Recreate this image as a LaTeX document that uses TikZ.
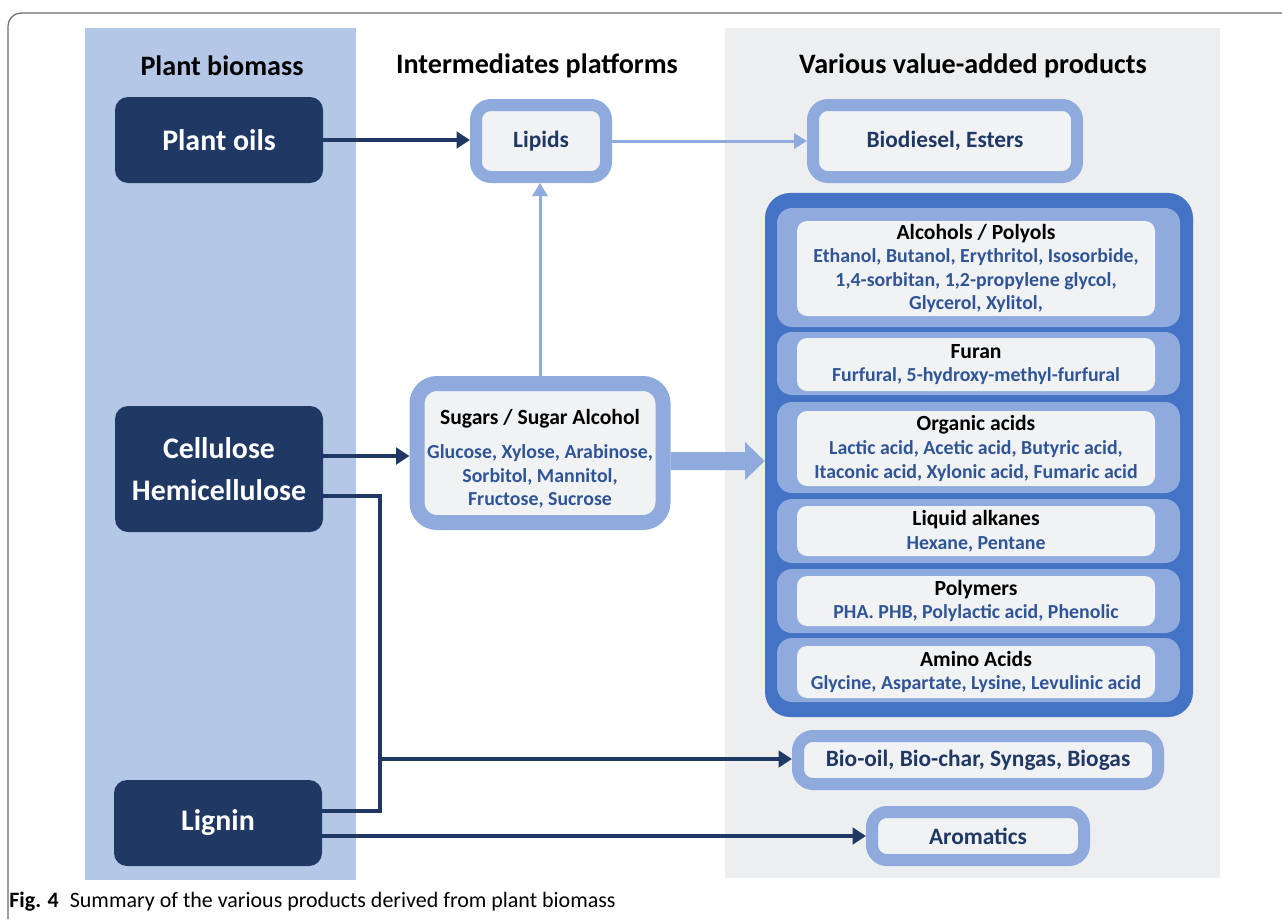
\documentclass[tikz,border=0pt]{standalone}
\usepackage{fontspec}
\setmainfont{Carlito}
\usetikzlibrary{arrows.meta}

\definecolor{navy}{HTML}{1F3864}
\definecolor{bandblue}{HTML}{B4C7E7}
\definecolor{ringblue}{HTML}{8FAADC}
\definecolor{boxblue}{HTML}{4472C4}
\definecolor{itemblue}{HTML}{2F5597}
\definecolor{panelgrey}{HTML}{EDEEF0}
\definecolor{innergrey}{HTML}{F1F2F4}
\definecolor{framegrey}{HTML}{6B6B6B}

\newcommand{\ptitle}[1]{{\color{black}\fontsize{12.3}{14}\selectfont #1}}

\tikzset{
    header/.style={font=\fontsize{16}{19}\selectfont\bfseries},
    srcbox/.style={fill=navy, text=white, rounded corners=2.6mm, align=center,
        inner sep=0, minimum width=41.6mm, font=\fontsize{17}{24}\selectfont\bfseries},
    ringbox/.style={draw=ringblue, line width=2.4mm, fill=innergrey, rounded corners=3mm,
        inner sep=0, align=center, text=navy, font=\fontsize{13.3}{16}\selectfont\bfseries},
    bandbox/.style={fill=ringblue, rounded corners=3mm, inner sep=0, minimum width=80.6mm},
    itembox/.style={fill=innergrey, rounded corners=2mm, inner sep=0, minimum width=71.6mm,
        align=center, text=itemblue, font=\fontsize{11.3}{13.4}\selectfont\bfseries},
    navyarrow/.style={draw=navy, line width=0.75mm, -{Triangle[length=2.7mm,width=3.3mm]}},
    navyline/.style={draw=navy, line width=0.75mm},
    lightarrow/.style={draw=ringblue, line width=0.6mm, -{Triangle[length=2.6mm,width=3mm]}}
}

\begin{document}
\begin{tikzpicture}[x=0.2mm, y=-0.2mm]
    \useasboundingbox (0,0) rectangle (1282,919);

    % frame and background columns
    \draw[framegrey, line width=0.25mm, rounded corners=2.6mm] (1282,13) -- (8,13) -- (8,919);
    \fill[bandblue] (85,28) rectangle (356,880);
    \fill[panelgrey] (725,28) rectangle (1220,878);

    \node[header] (hbiomass) at (222,66) {Plant biomass};
    \node[header] (hplatform) at (537,66) {Intermediates platforms};
    \node[header] (hproducts) at (973,66) {Various value-added products};

    % plant biomass
    \node[srcbox, minimum height=17.2mm] (plantoils) at (219,140) {Plant oils};
    \node[srcbox, minimum height=25.2mm] (cellulose) at (219,469) {Cellulose\\Hemicellulose};
    \node[srcbox, minimum height=17.2mm] (lignin) at (218,823) {Lignin};

    % intermediates
    \node[ringbox, minimum width=26mm, minimum height=14.4mm] (lipids) at (541,141) {Lipids};
    \node[ringbox, line width=3mm, rounded corners=4mm,
        minimum width=49.2mm, minimum height=27.8mm] (sugars) at (540,453) {};
    \node[align=center, inner sep=0, text=itemblue,
        font=\fontsize{11.3}{13.4}\selectfont\bfseries] (sugarstext) at (540,459)
        {\ptitle{Sugars / Sugar Alcohol}\\[6pt]
         Glucose, Xylose, Arabinose,\\Sorbitol, Mannitol,\\Fructose, Sucrose};

    % products
    \node[ringbox, minimum width=52.8mm, minimum height=14.4mm] (biodiesel) at (945,141) {Biodiesel, Esters};

    \node[fill=boxblue, rounded corners=5mm, inner sep=0, minimum width=85.6mm,
        minimum height=104.8mm] (products) at (979,455) {};

    \node[bandbox, minimum height=23.8mm] (alcoholsband) at (978.5,267.5) {};
    \node[bandbox, minimum height=12.6mm] (furanband) at (978.5,363.5) {};
    \node[bandbox, minimum height=18.2mm] (acidsband) at (978.5,447.5) {};
    \node[bandbox, minimum height=12.8mm] (alkanesband) at (978.5,531) {};
    \node[bandbox, minimum height=12.8mm] (polymersband) at (978.5,601) {};
    \node[bandbox, minimum height=12.8mm] (aminoband) at (978.5,670) {};

    \node[itembox, minimum height=19mm] (alcohols) at (976,268.5)
        {\ptitle{Alcohols / Polyols}\\Ethanol, Butanol, Erythritol, Isosorbide,\\
         1,4-sorbitan, 1,2-propylene glycol,\\Glycerol, Xylitol,};
    \node[itembox, minimum height=10.6mm] (furan) at (976,364.5)
        {\ptitle{Furan}\\Furfural, 5-hydroxy-methyl-furfural};
    \node[itembox, minimum height=15mm] (acids) at (976,448.5)
        {\ptitle{Organic acids}\\Lactic acid, Acetic acid, Butyric acid,\\
         Itaconic acid, Xylonic acid, Fumaric acid};
    \node[itembox, minimum height=10mm] (alkanes) at (976,531)
        {\ptitle{Liquid alkanes}\\Hexane, Pentane};
    \node[itembox, minimum height=10mm] (polymers) at (976,601)
        {\ptitle{Polymers}\\PHA. PHB, Polylactic acid, Phenolic};
    \node[itembox, minimum height=10.4mm] (amino) at (976,672)
        {\ptitle{Amino Acids}\\Glycine, Aspartate, Lysine, Levulinic acid};

    \node[ringbox, minimum width=72mm, minimum height=9.6mm] (biooil) at (978,760)
        {Bio-oil, Bio-char, Syngas, Biogas};
    \node[ringbox, minimum width=42.4mm, minimum height=9.6mm] (aromatics) at (978,836) {Aromatics};

    % connectors
    \draw[navyarrow] (plantoils.east) -- (plantoils.east -| lipids.west);
    \draw[lightarrow] (lipids.east) -- (biodiesel.west);
    \draw[lightarrow] (sugars.north |- 0,376) -- (sugars.north |- lipids.south);
    \draw[navyarrow] (cellulose.east |- 0,456) -- (sugars.west |- 0,456);

    \fill[ringblue] (sugars.east |- 0,452) -- (745,452) -- (745,442) -- (products.west |- 0,461)
        -- (745,480) -- (745,470) -- (sugars.east |- 0,470) -- cycle;

    \coordinate (split) at (380,759);
    \draw[navyline] (cellulose.east |- 0,496) -| (split) |- (lignin.east |- 0,811);
    \draw[navyarrow] (split) -- (split -| biooil.west);
    \draw[navyarrow] (lignin.east |- aromatics.west) -- (aromatics.west);

    % caption
    \node[anchor=west, inner sep=0, font=\fontsize{12.5}{15}\selectfont] (caption) at (9,902)
        {\textbf{Fig. 4}\enspace Summary of the various products derived from plant biomass};
\end{tikzpicture}
\end{document}
